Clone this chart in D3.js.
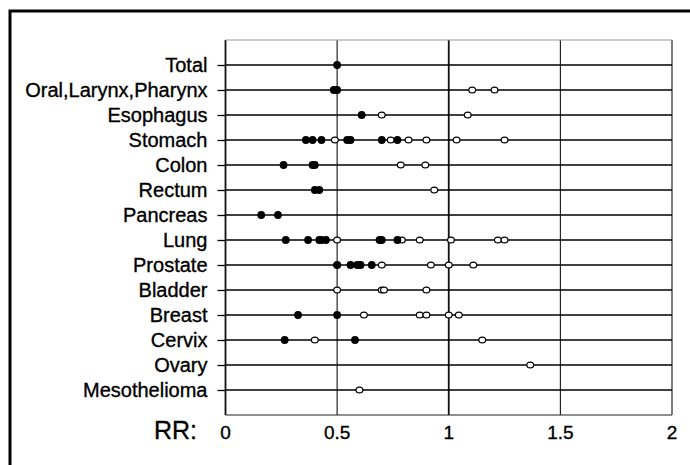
<!DOCTYPE html>
<html>
<head>
<meta charset="utf-8">
<script src="https://cdn.jsdelivr.net/npm/d3@7"></script>
<style>
  body { margin: 0; background: #fff; }
  svg { display: block; font-family: "Liberation Sans", Arial, sans-serif; }
  text { stroke: #000; stroke-width: 0.35px; }
</style>
</head>
<body>
<div id="chart"></div>
<script>

let width = 690;
let height = 465;

// cancer sites, top to bottom
let sites = ["Total", "Oral,Larynx,Pharynx", "Esophagus", "Stomach", "Colon", "Rectum",
             "Pancreas", "Lung", "Prostate", "Bladder", "Breast", "Cervix", "Ovary", "Mesothelioma"];

// relative risks, filled markers
let filledRR = [
    ["Total", 0.50],
    ["Oral,Larynx,Pharynx", 0.485], ["Oral,Larynx,Pharynx", 0.50],
    ["Esophagus", 0.61],
    ["Stomach", 0.36], ["Stomach", 0.39], ["Stomach", 0.43], ["Stomach", 0.545], ["Stomach", 0.56],
    ["Stomach", 0.70], ["Stomach", 0.77],
    ["Colon", 0.26], ["Colon", 0.39], ["Colon", 0.40],
    ["Rectum", 0.40], ["Rectum", 0.42],
    ["Pancreas", 0.16], ["Pancreas", 0.235],
    ["Lung", 0.27], ["Lung", 0.37], ["Lung", 0.42], ["Lung", 0.43], ["Lung", 0.45],
    ["Lung", 0.69], ["Lung", 0.70], ["Lung", 0.77],
    ["Prostate", 0.50], ["Prostate", 0.56], ["Prostate", 0.59], ["Prostate", 0.605], ["Prostate", 0.655],
    ["Breast", 0.325], ["Breast", 0.50],
    ["Cervix", 0.265], ["Cervix", 0.58]
];

// relative risks, open markers
let openRR = [
    ["Oral,Larynx,Pharynx", 1.105], ["Oral,Larynx,Pharynx", 1.205],
    ["Esophagus", 0.70], ["Esophagus", 1.085],
    ["Stomach", 0.49], ["Stomach", 0.74], ["Stomach", 0.82], ["Stomach", 0.90], ["Stomach", 1.035], ["Stomach", 1.25],
    ["Colon", 0.785], ["Colon", 0.895],
    ["Rectum", 0.935],
    ["Lung", 0.50], ["Lung", 0.79], ["Lung", 0.87], ["Lung", 1.01], ["Lung", 1.22], ["Lung", 1.25],
    ["Prostate", 0.50], ["Prostate", 0.70], ["Prostate", 0.92], ["Prostate", 1.00], ["Prostate", 1.11],
    ["Bladder", 0.50], ["Bladder", 0.70], ["Bladder", 0.71], ["Bladder", 0.90],
    ["Breast", 0.62], ["Breast", 0.87], ["Breast", 0.90], ["Breast", 1.00], ["Breast", 1.045],
    ["Cervix", 0.40], ["Cervix", 1.15],
    ["Ovary", 1.365],
    ["Mesothelioma", 0.60]
];

let xTicks = [0, 0.5, 1, 1.5, 2];

let margin = {left: 225.5, right: 18, top: 40, bottom: 50};

let svg = d3.select("#chart").append("svg")
    .attr("width", width)
    .attr("height", height);

// outer frame (runs off the page at right and bottom)
svg.append("rect")
    .attr("x", 10).attr("y", 11)
    .attr("width", 720).attr("height", 520)
    .attr("fill", "none")
    .attr("stroke", "#000")
    .attr("stroke-width", 3);

let x = d3.scaleLinear()
    .domain([0, 2])
    .range([margin.left, width - margin.right]);

let y = d3.scalePoint()
    .domain(sites)
    .range([margin.top, height - margin.bottom])
    .padding(1);

let plotBottom = height - margin.bottom;

// vertical grid
svg.append("g")
    .selectAll("line")
    .data(xTicks)
    .join("line")
        .attr("x1", d => x(d)).attr("x2", d => x(d))
        .attr("y1", margin.top).attr("y2", plotBottom)
        .attr("stroke", "#111")
        .attr("stroke-width", d => (d == 0 || d == 1) ? 1.8 : 1.1);

// top / bottom of plot box
svg.append("line")
    .attr("x1", x(0)).attr("x2", x(2))
    .attr("y1", margin.top).attr("y2", margin.top)
    .attr("stroke", "#999").attr("stroke-width", 1);
svg.append("line")
    .attr("x1", x(0)).attr("x2", x(2))
    .attr("y1", plotBottom).attr("y2", plotBottom)
    .attr("stroke", "#222").attr("stroke-width", 1.2);

// row lines
svg.append("g")
    .selectAll("line")
    .data(sites)
    .join("line")
        .attr("x1", x(0)).attr("x2", x(2))
        .attr("y1", d => y(d)).attr("y2", d => y(d))
        .attr("stroke", "#000")
        .attr("stroke-width", 1.3);

// left axis with site names
let yAxis = svg.append("g")
    .attr("transform", `translate(${x(0)},0)`)
    .call(d3.axisLeft(y).tickSize(8).tickPadding(10));
yAxis.select(".domain").remove();
yAxis.selectAll(".tick line").attr("stroke", "#000").attr("stroke-width", 1.3);
yAxis.selectAll(".tick text")
    .attr("font-size", 20)
    .attr("font-family", "Liberation Sans, Arial, sans-serif")
    .attr("fill", "#000")
    .attr("dy", "0.32em");

// x tick labels
svg.append("g")
    .selectAll("text")
    .data(xTicks)
    .join("text")
        .attr("x", d => x(d))
        .attr("y", 439)
        .attr("text-anchor", "middle")
        .attr("font-size", 19)
        .text(d => d);

svg.append("text")
    .attr("x", 197)
    .attr("y", 439)
    .attr("text-anchor", "end")
    .attr("font-size", 25)
    .text("RR:");

// open markers
svg.append("g")
    .selectAll("ellipse")
    .data(openRR)
    .join("ellipse")
        .attr("cx", d => x(d[1]))
        .attr("cy", d => y(d[0]))
        .attr("rx", 3.4)
        .attr("ry", 2.9)
        .attr("fill", "#fff")
        .attr("stroke", "#000")
        .attr("stroke-width", 1.2);

// filled markers
svg.append("g")
    .selectAll("circle")
    .data(filledRR)
    .join("circle")
        .attr("cx", d => x(d[1]))
        .attr("cy", d => y(d[0]))
        .attr("r", 3.9)
        .attr("fill", "#000");

</script>
</body>
</html>
